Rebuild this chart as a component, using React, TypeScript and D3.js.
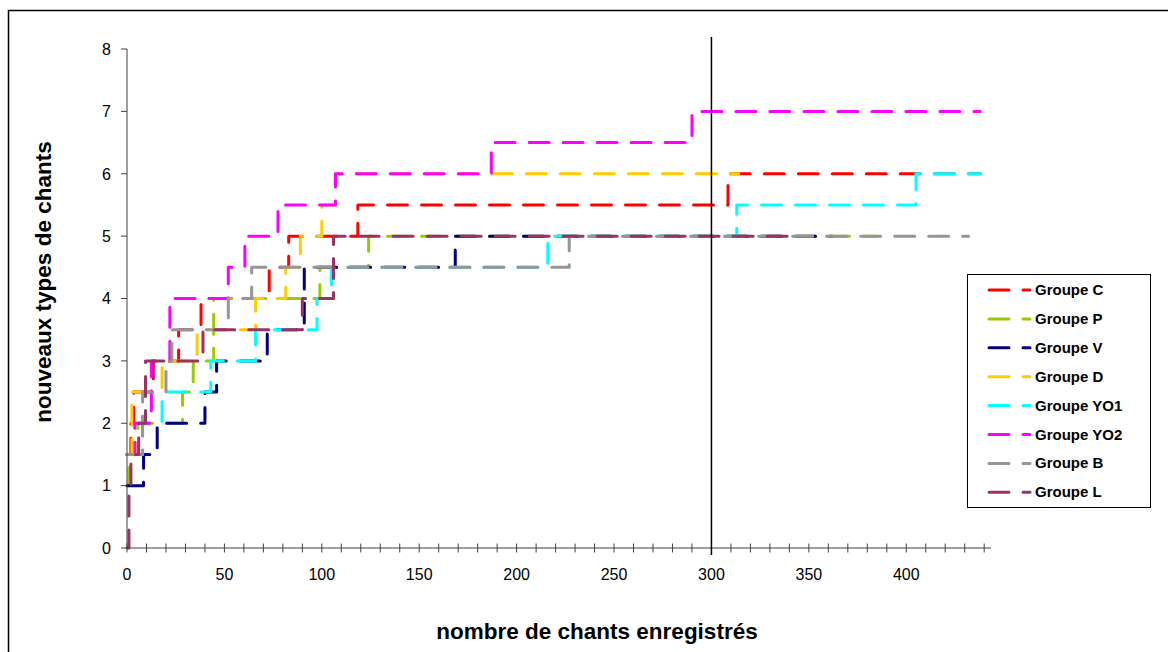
import React from "react";
import * as d3 from "d3";

// ---- Data ----
const seriesNames = ["Groupe C", "Groupe P", "Groupe V", "Groupe D", "Groupe YO1", "Groupe YO2", "Groupe B", "Groupe L"];
const seriesColors = ["#FF0000", "#99CC00", "#000080", "#FFCC00", "#00FFFF", "#FF00FF", "#969696", "#993366"];

// each series: number of songs recorded at which the level changes, and the level reached
const groupeC_x = [0, 2, 3.5, 13.5, 26.5, 38, 73, 83, 118.5, 308.5, 438];
const groupeC_y = [1.5, 2, 2.5, 3, 3.5, 4, 4.5, 5, 5.5, 6, 6];
const groupeP_x = [0, 1, 5.5, 28.5, 34, 44.5, 99, 124, 385];
const groupeP_y = [1, 1.5, 2, 2.5, 3, 4, 4.5, 5, 5];
const groupeV_x = [0, 8.5, 15.5, 40, 46, 72, 91, 168.5, 362];
const groupeV_y = [1, 1.5, 2, 2.5, 3, 3.5, 4.5, 5, 5];
const groupeD_x = [0, 2.5, 18, 36, 66, 81.5, 89, 100, 107, 314];
const groupeD_y = [1.5, 2.5, 3, 3.5, 4, 4.5, 5, 5.5, 6, 6];
const groupeYO1_x = [0, 8, 18, 43, 66, 97.5, 105, 216, 313, 405, 438];
const groupeYO1_y = [1.5, 2, 2.5, 3, 3.5, 4, 4.5, 5, 5.5, 6, 6];
const groupeYO2_x = [0, 4, 12.5, 22, 52, 60.5, 77.5, 107, 187, 290, 438];
const groupeYO2_y = [1.5, 2, 3, 4, 4.5, 5, 5.5, 6, 6.5, 7, 7];
const groupeB_x = [0, 8, 20, 23, 52, 64, 227, 432];
const groupeB_y = [1.5, 2.5, 3, 3.5, 4, 4.5, 5, 5];
const groupeL_x = [0, 1, 2, 6, 9.5, 39, 90, 106, 343];
const groupeL_y = [0, 1, 1.5, 2, 3, 3.5, 4, 5, 5];

const seriesX = [groupeC_x, groupeP_x, groupeV_x, groupeD_x, groupeYO1_x, groupeYO2_x, groupeB_x, groupeL_x];
const seriesY = [groupeC_y, groupeP_y, groupeV_y, groupeD_y, groupeYO1_y, groupeYO2_y, groupeB_y, groupeL_y];

const xTickLabels = [0, 50, 100, 150, 200, 250, 300, 350, 400];
const yTickLabels = [0, 1, 2, 3, 4, 5, 6, 7, 8];
const markerX = 300;

const xTitle = "nombre de chants enregistrés";
const yTitle = "nouveaux types de chants";

const FONT = "'Liberation Sans', Arial, sans-serif";

export default function App() {
  const x = d3.scaleLinear().domain([0, 443.5]).range([127, 991]);
  const y = d3.scaleLinear().domain([0, 8]).range([548, 49]);
  const line = d3
    .line<[number, number]>()
    .x((d) => x(d[0]))
    .y((d) => y(d[1]))
    .curve(d3.curveStepAfter);

  const minorTicks = d3.range(0, 441, 10);
  const dash = "20 14";

  return (
    <svg
      width={1168}
      height={652}
      style={{ position: "absolute", left: 0, top: 0, background: "#fff" }}
      fontFamily={FONT}
    >
      <rect x={0} y={0} width={1168} height={652} fill="#fff" />
      {/* outer frame */}
      <rect x={8.5} y={10.5} width={1300} height={800} fill="none" stroke="#000" strokeWidth={1.5} />

      {/* series */}
      {seriesX.map((xs, i) => {
        const pts: [number, number][] = xs.map((v, k) => [v, seriesY[i][k]]);
        return (
          <path
            key={seriesNames[i]}
            d={line(pts) || ""}
            fill="none"
            stroke={seriesColors[i]}
            strokeWidth={3}
            strokeDasharray={dash}
            strokeLinecap="round"
            strokeLinejoin="round"
          />
        );
      })}

      {/* y axis */}
      <line x1={127} x2={127} y1={y(8)} y2={y(0)} stroke="#404040" strokeWidth={1} />
      {yTickLabels.map((t) => (
        <g key={"y" + t}>
          <line x1={121} x2={127} y1={y(t)} y2={y(t)} stroke="#404040" strokeWidth={1} />
          <text x={111} y={y(t)} dy="0.36em" textAnchor="end" fontSize={16} fill="#000">
            {t}
          </text>
        </g>
      ))}

      {/* x axis */}
      <line x1={x(0)} x2={x(443.5)} y1={y(0)} y2={y(0)} stroke="#404040" strokeWidth={1} />
      {minorTicks.map((t) => (
        <line key={"xt" + t} x1={x(t)} x2={x(t)} y1={y(0) - 4.5} y2={y(0) + 4.5} stroke="#404040" strokeWidth={1} />
      ))}
      {xTickLabels.map((t) => (
        <text key={"xl" + t} x={x(t)} y={580} textAnchor="middle" fontSize={16} fill="#000">
          {t}
        </text>
      ))}

      {/* vertical marker at 300 */}
      <line x1={x(markerX)} x2={x(markerX)} y1={37} y2={555} stroke="#000" strokeWidth={1.5} />

      {/* axis titles */}
      <text x={597} y={639} textAnchor="middle" fontSize={22.5} fontWeight="bold" fill="#000">
        {xTitle}
      </text>
      <text
        transform={`translate(51, 282) rotate(-90)`}
        textAnchor="middle"
        fontSize={22.5}
        fontWeight="bold"
        fill="#000"
      >
        {yTitle}
      </text>

      {/* legend */}
      <rect x={967.5} y={274.5} width={183} height={233} fill="#fff" stroke="#000" strokeWidth={1} />
      {seriesNames.map((name, i) => {
        const cy = 290 + i * 28.9;
        return (
          <g key={"lg" + name}>
            <line
              x1={989}
              x2={1030}
              y1={cy}
              y2={cy}
              stroke={seriesColors[i]}
              strokeWidth={3}
              strokeDasharray={dash}
              strokeLinecap="round"
            />
            <text x={1035} y={cy + 5} fontSize={15} fontWeight="bold" fill="#000">
              {name}
            </text>
          </g>
        );
      })}
    </svg>
  );
}
